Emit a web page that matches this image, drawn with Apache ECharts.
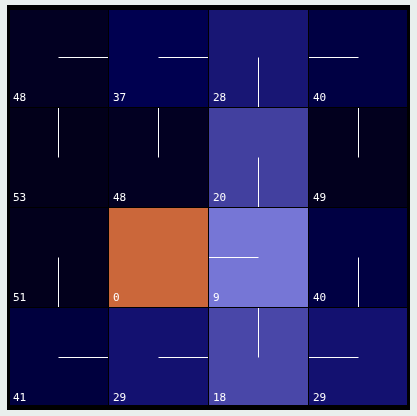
<!DOCTYPE html>
<html>
<head>
<meta charset="utf-8">
<script src="https://cdn.jsdelivr.net/npm/echarts@6/dist/echarts.min.js"></script>
<style>
  html, body { margin: 0; padding: 0; background: #e9efed; }
  #chart { width: 417px; height: 416px; }
</style>
</head>
<body>
<div id="chart"></div>
<script>
// grid values, row 0 is the top row
const values = [
  [48, 37, 28, 40],
  [53, 48, 20, 49],
  [51, 0, 9, 40],
  [41, 29, 18, 29]
];
// direction of the policy stroke drawn from each cell centre
const dirs = [
  ['r', 'r', 'd', 'l'],
  ['u', 'u', 'd', 'u'],
  ['d', '', 'l', 'd'],
  ['r', 'r', 'u', 'l']
];
const cols = ['0', '1', '2', '3'];
const rows = ['0', '1', '2', '3'];

const data = [];
values.forEach((row, r) => {
  row.forEach((v, c) => {
    data.push([c, r, v, dirs[r][c]]);
  });
});

const chart = echarts.init(document.getElementById('chart'));

const option = {
  backgroundColor: '#e9efed',
  animation: false,
  graphic: [{
    type: 'rect',
    shape: { x: 7, y: 5, width: 403, height: 405 },
    style: { fill: '#000' },
    z: -10
  }, {
    // thick outer border drawn over the cells
    type: 'rect',
    shape: { x: 8.5, y: 8.5, width: 400, height: 398 },
    style: { fill: null, stroke: '#000', lineWidth: 3 },
    z: 100
  }],
  grid: { left: 8, right: 9, top: 7, bottom: 9, show: false },
  xAxis: { type: 'category', data: cols, show: false },
  yAxis: { type: 'category', data: rows, inverse: true, show: false },
  visualMap: {
    show: false,
    type: 'continuous',
    dimension: 2,
    min: 9,
    max: 53,
    inRange: {
      color: ['#7676d6', '#6160c2', '#4c4aac', '#3e3c9a', '#27267f', '#131170',
              '#080660', '#000050', '#00003e', '#01002c', '#02001e', '#02001a']
    }
  },
  series: [{
    type: 'custom',
    data: data,
    renderItem: (params, api) => {
      const c = api.coord([api.value(0), api.value(1)]);
      const s = api.size([1, 1]);
      const x0 = Math.round(c[0] - s[0] / 2);
      const y0 = Math.round(c[1] - s[1] / 2);
      const cx = Math.round(c[0]) + 0.5;
      const cy = Math.round(c[1]) + 0.5;
      const v = api.value(2);
      const dir = dirs[api.value(1)][api.value(0)];
      const children = [{
        type: 'rect',
        shape: { x: x0 + 1, y: y0 + 1, width: s[0] - 1, height: s[1] - 1 },
        style: { fill: v < 9 ? '#cb673a' : api.visual('color') }
      }, {
        type: 'text',
        style: {
          x: x0 + 5,
          y: y0 + s[1] - 3,
          text: String(v),
          fill: '#fff',
          font: '11px "DejaVu Sans Mono"',
          verticalAlign: 'bottom'
        }
      }];
      const ends = {
        r: [x0 + s[0], cy],
        l: [x0 + 1, cy],
        u: [cx, y0 + 1],
        d: [cx, y0 + s[1]]
      };
      if (ends[dir]) {
        children.push({
          type: 'line',
          shape: { x1: cx, y1: cy, x2: ends[dir][0], y2: ends[dir][1] },
          style: { stroke: '#fff', lineWidth: 1 }
        });
      }
      return { type: 'group', children: children };
    }
  }]
};

chart.setOption(option);
</script>
</body>
</html>
